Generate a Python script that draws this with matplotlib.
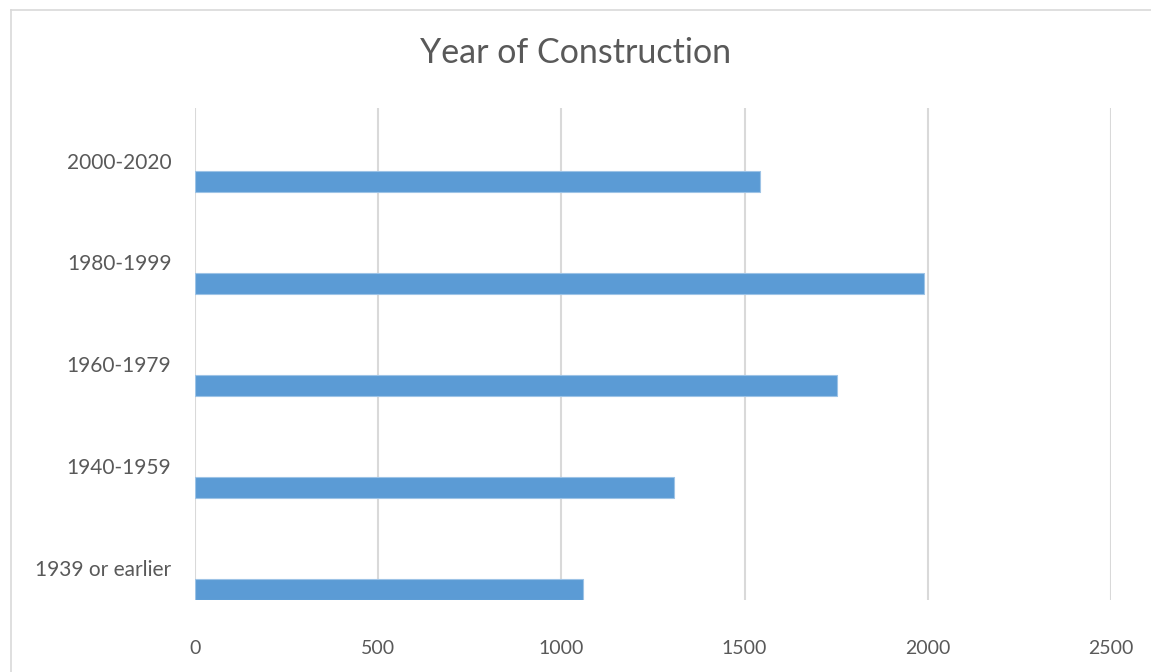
import matplotlib.pyplot as plt
from matplotlib.lines import Line2D

# Year of construction counts
periods = ["1939 or earlier", "1940-1959", "1960-1979", "1980-1999", "2000-2020"]
counts = [1058, 1307, 1752, 1990, 1542]
x_ticks = [0, 500, 1000, 1500, 2000, 2500]

plt.rcParams['font.family'] = ['Lato', 'DejaVu Sans']
text_col = '#595959'
grid_col = '#d9d9d9'

fig = plt.figure(figsize=(11.51, 6.72), dpi=100)
ax = fig.add_axes([195 / 1151, 1 - 600 / 672, 916 / 1151, 492 / 672])

pos = list(range(len(periods)))
ax.barh(pos, counts, height=0.205, color='#5b9bd5', edgecolor='#9dc3e6',
        linewidth=0.8, zorder=3)

ax.set_xlim(0, 2500)
ax.set_ylim(-0.1, 4.725)
ax.set_xticks(x_ticks)
ax.set_xticklabels([str(t) for t in x_ticks])
ax.set_yticks([p + 0.21 for p in pos])
ax.set_yticklabels(periods)

ax.grid(axis='x', color=grid_col, linewidth=1.5, zorder=0)
ax.tick_params(axis='both', length=0, labelcolor=text_col)
ax.tick_params(axis='x', pad=29, labelsize=14)
ax.tick_params(axis='y', pad=17, labelsize=15)
for s in ax.spines.values():
    s.set_visible(False)

fig.text(0.5, 1 - 53 / 672, "Year of Construction", ha='center', va='center',
         fontsize=24.5, color=text_col)

# chart area border (left and top visible)
fig.add_artist(Line2D([11 / 1151, 11 / 1151], [0, 1 - 10 / 672],
                      transform=fig.transFigure, color=grid_col, linewidth=1.2))
fig.add_artist(Line2D([11 / 1151, 1], [1 - 10 / 672, 1 - 10 / 672],
                      transform=fig.transFigure, color=grid_col, linewidth=1.2))

fig.savefig('out.png', dpi=100)
